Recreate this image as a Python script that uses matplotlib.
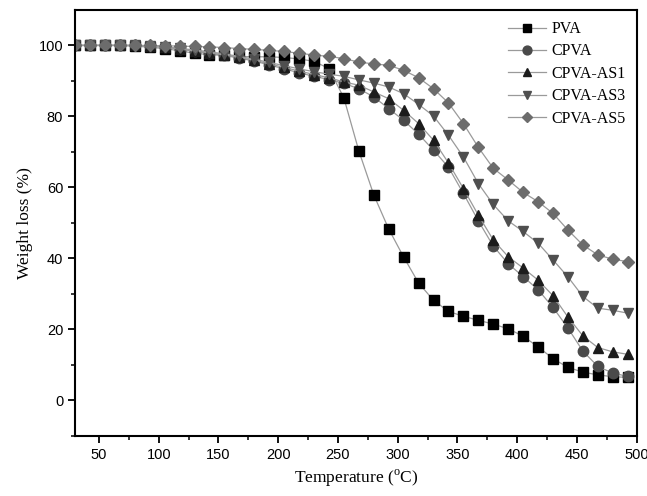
import matplotlib
matplotlib.use("Agg")
import matplotlib.pyplot as plt

plt.rcParams['mathtext.fontset'] = 'custom'
plt.rcParams['mathtext.rm'] = 'Liberation Serif'

# temperature grid (C)
temp = [30, 42.5, 55, 67.5, 80, 92.5, 105, 117.5, 130, 142.5, 155, 167.5, 180,
        192.5, 205, 217.5, 230, 242.5, 255, 267.5, 280, 292.5, 305, 317.5, 330,
        342.5, 355, 367.5, 380, 392.5, 405, 417.5, 430, 442.5, 455, 467.5, 480,
        492.5]

pva = [100, 100, 100, 100, 99.8, 99.5, 99.1, 98.5, 97.8, 97.4, 97.2, 96.9, 96.8,
       96.8, 96.6, 96.2, 95.5, 93.5, 85.2, 70.3, 57.9, 48.3, 40.4, 33.1, 28.2,
       25.1, 23.7, 22.6, 21.5, 20.2, 18.1, 15.1, 11.8, 9.3, 8.0, 7.2, 6.7, 6.5]
cpva = [100, 100, 100, 100, 100, 99.8, 99.5, 99.0, 98.4, 97.8, 97.2, 96.4, 95.6,
        94.5, 93.4, 92.3, 91.3, 90.4, 89.3, 87.8, 85.5, 82.2, 78.9, 75.0, 70.5,
        65.7, 58.3, 50.6, 43.5, 38.5, 34.9, 31.2, 26.2, 20.4, 13.9, 9.6, 7.7, 6.8]
as1 = [100, 100, 100, 100, 100, 99.8, 99.5, 99.0, 98.4, 97.9, 97.3, 96.6, 95.8,
       94.8, 93.8, 92.8, 91.8, 90.9, 89.7, 88.8, 86.9, 85.0, 81.7, 78.0, 73.3,
       66.9, 59.7, 52.2, 45.2, 40.5, 37.3, 33.9, 29.5, 23.5, 18.2, 14.9, 13.7, 13.0]
as3 = [100, 100, 100, 100, 100, 99.8, 99.6, 99.2, 98.7, 98.2, 97.6, 96.9, 96.1,
       95.2, 94.3, 93.4, 92.6, 91.9, 91.3, 90.3, 89.4, 88.3, 86.4, 83.4, 80.1,
       74.7, 68.6, 61.1, 55.2, 50.6, 47.6, 44.3, 39.6, 34.8, 29.3, 26.0, 25.4, 24.6]
as5 = [100, 100, 100, 100, 100, 100, 99.9, 99.8, 99.7, 99.6, 99.4, 99.1, 98.9,
       98.6, 98.3, 97.8, 97.3, 96.9, 96.3, 95.3, 94.8, 94.4, 93.0, 90.9, 87.8,
       83.8, 78.0, 71.3, 65.4, 62.1, 58.6, 56.0, 52.7, 48.0, 43.8, 41.0, 39.8, 39.1]

names = ['PVA', 'CPVA', 'CPVA-AS1', 'CPVA-AS3', 'CPVA-AS5']
series = [pva, cpva, as1, as3, as5]
markers = ['s', 'o', '^', 'v', 'D']
colors = ['#000000', '#4a4a4a', '#1c1c1c', '#4f4f4f', '#6c6c6c']
sizes = [6.5, 7.5, 7.5, 7.5, 6.5]

fig = plt.figure(figsize=(6.47, 4.96), dpi=100)
ax = fig.add_axes([0.116, 0.121, 0.868, 0.859])

for name, y, m, c, s in zip(names, series, markers, colors, sizes):
    ax.plot(temp, y, color='#9a9a9a', lw=0.9, marker=m, ms=s,
            mfc=c, mec=c, label=name)

ax.set_xlim(30, 500)
ax.set_ylim(-10, 110)
ax.set_xticks([50, 100, 150, 200, 250, 300, 350, 400, 450, 500])
ax.set_xticks([75, 125, 175, 225, 275, 325, 375, 425, 475], minor=True)
ax.set_yticks([0, 20, 40, 60, 80, 100])
ax.set_yticks([-10, 10, 30, 50, 70, 90], minor=True)
ax.tick_params(which='major', direction='out', length=5, width=1.3,
               labelsize=10.5, top=False, right=False)
ax.tick_params(which='minor', direction='out', length=3, width=1.1,
               top=False, right=False)
for lab in ax.get_xticklabels() + ax.get_yticklabels():
    lab.set_fontfamily('Liberation Sans')
for sp in ax.spines.values():
    sp.set_linewidth(1.5)

ax.set_xlabel(r'Temperature ($^{\mathrm{o}}$C)', fontfamily='Liberation Serif',
              fontsize=12.5, labelpad=4)
ax.set_ylabel('Weight loss (%)', fontfamily='Liberation Serif', fontsize=12.5,
              labelpad=4)

leg = ax.legend(loc='upper right', frameon=False, handlelength=2.4,
                handletextpad=0.3, labelspacing=0.4, borderaxespad=0.3,
                markerscale=0.85,
                prop={'family': 'Liberation Serif', 'size': 11.5})

fig.savefig('out.png', dpi=100)
